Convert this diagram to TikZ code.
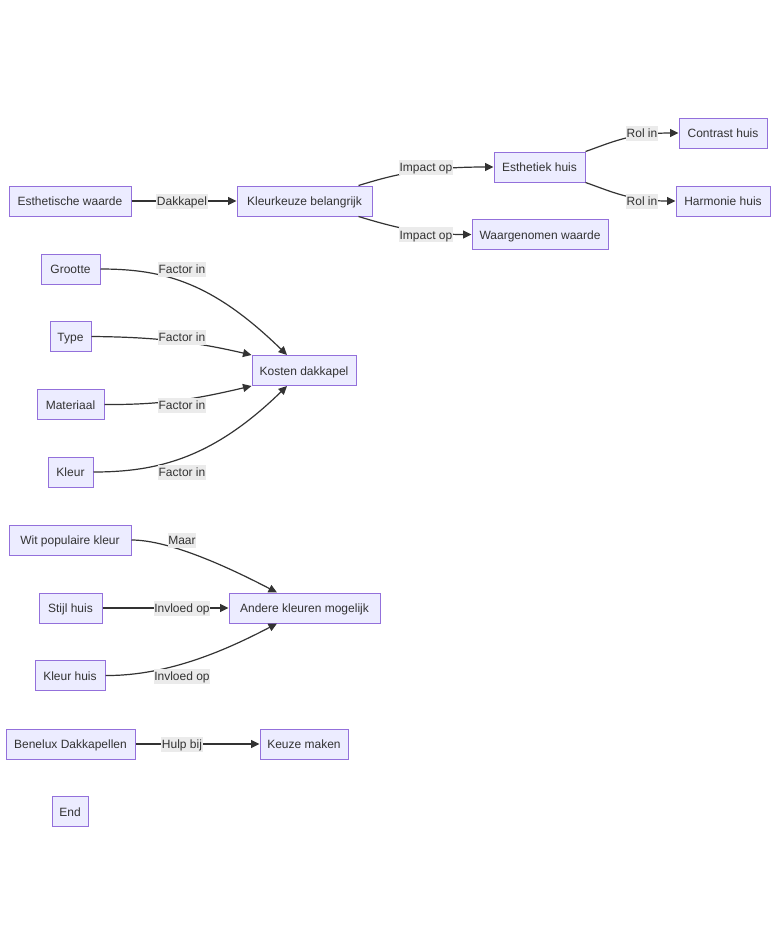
\documentclass[tikz,border=0pt]{standalone}
\usepackage{fontspec}
\setmainfont{Liberation Sans}
\usetikzlibrary{arrows.meta}
\definecolor{nodefill}{HTML}{ECECFF}
\definecolor{nodeline}{HTML}{9370DB}
\definecolor{edgecol}{HTML}{333333}
\definecolor{lblfill}{HTML}{E8E8E8}
\definecolor{txt}{HTML}{333333}
\begin{document}
\begin{tikzpicture}[x=1pt,y=-1pt,
  box/.style={draw=nodeline, fill=nodefill, line width=1pt, minimum width=#1, minimum height=30pt, inner sep=0pt, text height=10pt, text depth=1pt, text=txt, font=\fontsize{12}{14}\selectfont},
  lbl/.style={fill=lblfill!85, text=txt, inner xsep=0.5pt, inner ysep=1.5pt, text height=10.5pt, text depth=1.5pt, font=\fontsize{12}{14}\selectfont},
  edge/.style={draw=edgecol, line width=1.2pt, -{Triangle[length=8.5pt,width=8pt]}},
]
\useasboundingbox[fill=white] (0,0) rectangle (784,945);

% nodes
\node[box=122pt] (est) at (70,201) {Esthetische waarde};
\node[box=135pt] (klk) at (304.5,201) {Kleurkeuze belangrijk};
\node[box=91pt] (esh) at (539.5,167) {Esthetiek huis};
\node[box=136pt] (waw) at (540,234.5) {Waargenomen waarde};
\node[box=88pt] (con) at (723,133) {Contrast huis};
\node[box=94pt] (har) at (723,201) {Harmonie huis};
\node[box=59pt] (gro) at (70.5,269) {Grootte};
\node[box=41pt] (typ) at (70.5,336.5) {Type};
\node[box=67pt] (mat) at (70.5,404.5) {Materiaal};
\node[box=45pt] (kle) at (70.5,472) {Kleur};
\node[box=104pt] (kos) at (304,370.5) {Kosten dakkapel};
\node[box=122pt] (wit) at (70,540) {Wit populaire kleur};
\node[box=63pt] (sti) at (70.5,608) {Stijl huis};
\node[box=70pt] (klh) at (70,675.5) {Kleur huis};
\node[box=151pt] (and) at (304.5,608) {Andere kleuren mogelijk};
\node[box=129pt] (ben) at (70.5,744) {Benelux Dakkapellen};
\node[box=88pt] (keu) at (304,744) {Keuze maken};
\node[box=36pt] (end) at (70,811.5) {End};

% edges
\draw[edge] (est.east) -- (klk.west);
\draw[edge] ([xshift=-14pt]klk.north east) .. controls (390,176) and (420,167) .. (esh.west);
\draw[edge] ([xshift=-14pt]klk.south east) .. controls (390,226) and (420,234.5) .. (waw.west);
\draw[edge] (esh.north east) .. controls (610,143) and (630,133) .. (con.west);
\draw[edge] (esh.south east) .. controls (610,191) and (630,201) .. (har.west);

\draw[edge] (gro.east) .. controls (165,269) and (213,283) .. ([xshift=-17pt]kos.north);
\draw[edge] (typ.east) .. controls (160,337) and (200,343) .. (kos.north west);
\draw[edge] (mat.east) .. controls (165,405) and (200,398) .. (kos.south west);
\draw[edge] (kle.east) .. controls (158,472) and (213,458) .. ([xshift=-17pt]kos.south);

\draw[edge] (wit.east) .. controls (170,540) and (230,568) .. ([xshift=-27.5pt]and.north);
\draw[edge] (sti.east) -- (and.west);
\draw[edge] (klh.east) .. controls (170,676) and (230,648) .. ([xshift=-27.5pt]and.south);
\draw[edge] (ben.east) -- (keu.west);

% labels
\node[lbl] (l1) at (182,201) {Dakkapel};
\node[lbl] (l2) at (426,167) {Impact op};
\node[lbl] (l3) at (426,234.5) {Impact op};
\node[lbl] (l4) at (642,133) {Rol in};
\node[lbl] (l5) at (642,201) {Rol in};
\node[lbl] (l6) at (182,269) {Factor in};
\node[lbl] (l7) at (182,337) {Factor in};
\node[lbl] (l8) at (182,405) {Factor in};
\node[lbl] (l9) at (182,472) {Factor in};
\node[lbl] (l10) at (182,540) {Maar};
\node[lbl] (l11) at (182,608) {Invloed op};
\node[lbl] (l12) at (182,676) {Invloed op};
\node[lbl] (l13) at (182,744) {Hulp bij};
\end{tikzpicture}
\end{document}
